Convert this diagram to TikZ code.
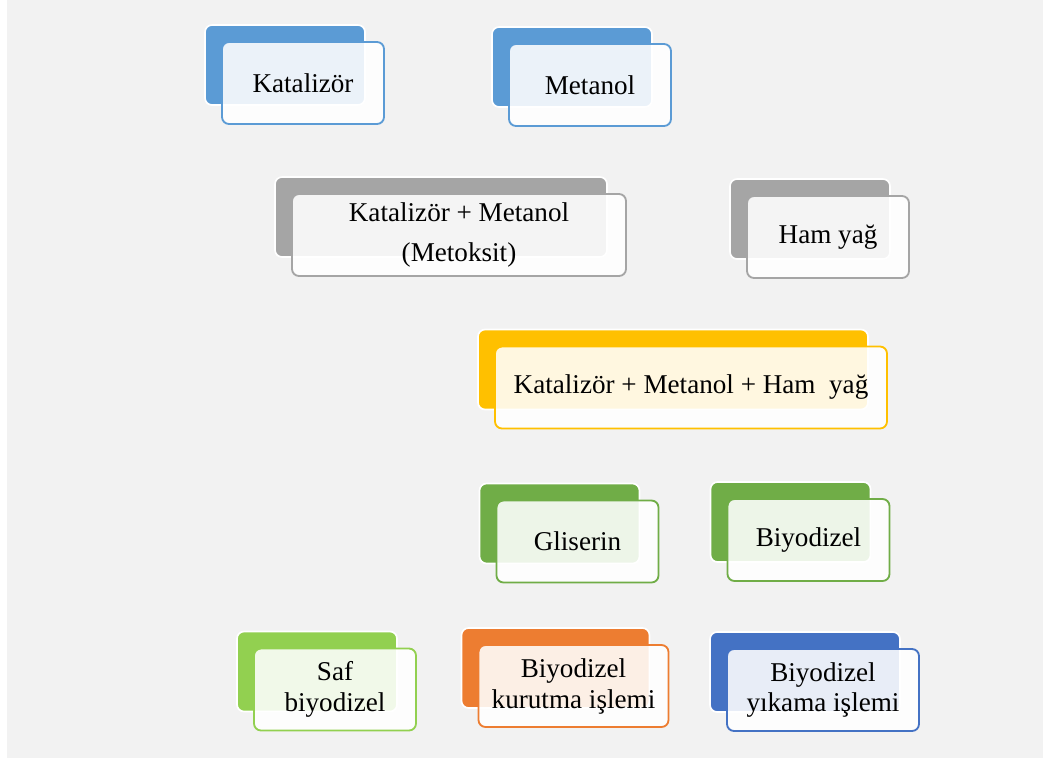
\documentclass[tikz,border=0pt]{standalone}
\usepackage{fontspec}
\setmainfont{Liberation Serif}
\usepackage{tikz}
\usetikzlibrary{calc,shapes,positioning}
\definecolor{bgGray}{HTML}{F2F2F2}
\definecolor{sky}{HTML}{5B9BD5}
\definecolor{stone}{HTML}{A5A5A5}
\definecolor{gold}{HTML}{FFC000}
\definecolor{leaf}{HTML}{70AD47}
\definecolor{lime}{HTML}{92D050}
\definecolor{rust}{HTML}{ED7D31}
\definecolor{navy}{HTML}{4472C4}
\newcommand{\blockFont}{\fontsize{19.3}{22}\selectfont}
\tikzset{
   back block/.style={rectangle,rounded corners=5pt,draw=white,line width=1.2pt,fill=#1,
                      minimum width=4cm,minimum height=2cm,inner sep=2pt},
   front block/.style={rectangle,rounded corners=5pt,draw=#1,line width=1.3pt,fill=white,
                       fill opacity=0.88,text opacity=1,minimum width=4.05cm,minimum height=2.05cm,
                       inner sep=2pt,align=center,font=\blockFont},
   front shift/.style={shift={(0.45,-0.45)}}
}

\begin{document}
\begin{tikzpicture}
\useasboundingbox (0,0) rectangle (26.075,-18.95);
\fill[bgGray] (0.175,0) rectangle (26.075,-18.95);

% Katalizor, Metanol
\node[back block=sky] (katBack) at (7.125,-1.625) {};
\node[front block=sky] (kat) at ([front shift]katBack.center) {Katalizör};
\node[back block=sky] (metBack) at (14.3,-1.675) {};
\node[front block=sky] (met) at ([front shift]metBack.center) {Metanol};

% Metoksit, Ham yag
\node[back block=stone, minimum width=8.3cm] (mtkBack) at (11.025,-5.425) {};
\node[front block=stone, minimum width=8.35cm] (mtk) at ([front shift]mtkBack.center) {Katalizör + Metanol\\[7pt](Metoksit)};
\node[back block=stone] (hamBack) at (20.25,-5.475) {};
\node[front block=stone] (ham) at ([front shift]hamBack.center) {Ham yağ};

% karisim
\node[back block=gold, minimum width=9.75cm] (karBack) at (16.825,-9.2375) {};
\node[front block=gold, minimum width=9.8cm] (kar) at ([front shift]karBack.center) {Katalizör + Metanol + Ham\ \ yağ};

% Gliserin, Biyodizel
\node[back block=leaf] (gliBack) at (13.9875,-13.0875) {};
\node[front block=leaf] (gli) at ([front shift]gliBack.center) {Gliserin};
\node[back block=leaf] (biyBack) at (19.7625,-13.05) {};
\node[front block=leaf] (biy) at ([front shift]biyBack.center) {Biyodizel};

% son islemler
\node[back block=lime] (safBack) at (7.925,-16.7875) {};
\node[front block=lime] (saf) at ([front shift]safBack.center) {Saf\\biyodizel};
\node[back block=rust, minimum width=4.7cm] (kurBack) at (13.8875,-16.7) {};
\node[front block=rust, minimum width=4.75cm] (kur) at ([front shift]kurBack.center) {Biyodizel\\kurutma işlemi};
\node[back block=navy, minimum width=4.75cm] (yikBack) at (20.125,-16.8) {};
\node[front block=navy, minimum width=4.8cm] (yik) at ([front shift]yikBack.center) {Biyodizel\\yıkama işlemi};

\end{tikzpicture}
\end{document}
